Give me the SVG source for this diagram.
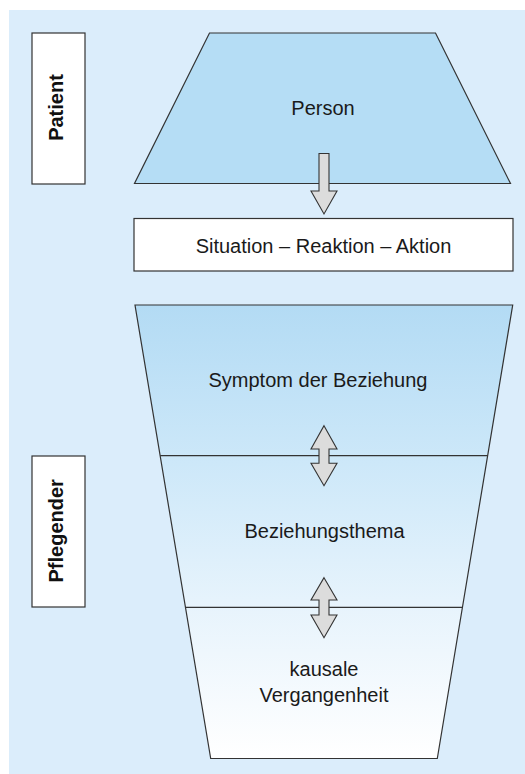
<svg xmlns="http://www.w3.org/2000/svg" width="525" height="774" viewBox="0 0 525 774">
<defs>
<linearGradient id="funnelGrad" x1="0" y1="305" x2="0" y2="758" gradientUnits="userSpaceOnUse">
<stop offset="0" stop-color="#b3dbf4"/>
<stop offset="0.35" stop-color="#cde8f9"/>
<stop offset="0.65" stop-color="#e6f3fc"/>
<stop offset="1" stop-color="#ffffff"/>
</linearGradient>
<style>
.shape{stroke:#333;stroke-width:1.2;}
.label{font-family:"Liberation Sans",Arial,sans-serif;font-size:20px;fill:#1a1a1a;text-anchor:middle;}
.side{font-family:"Liberation Sans",Arial,sans-serif;font-size:20px;font-weight:bold;fill:#111;text-anchor:middle;}
.arrow{fill:#dcdcdc;stroke:#333;stroke-width:1.1;stroke-linejoin:miter;}
</style>
</defs>
<rect x="9" y="10" width="516" height="764" fill="#dbedfb"/>

<g id="patient">
<rect class="shape" x="32" y="33" width="53" height="151" fill="#ffffff"/>
<text class="side" transform="translate(62.7,107.5) rotate(-90)">Patient</text>
</g>

<g id="pflegender">
<rect class="shape" x="32" y="456" width="53" height="151" fill="#ffffff"/>
<text class="side" transform="translate(62.7,530.8) rotate(-90)">Pflegender</text>
</g>

<g id="person">
<polygon class="shape" points="209.5,33 435.5,33 510.5,183.5 134.5,183.5" fill="#b5ddf5"/>
<text class="label" x="323" y="115">Person</text>
</g>

<g id="situation">
<rect class="shape" x="134" y="218.5" width="379" height="52.5" fill="#ffffff"/>
<text class="label" x="323.5" y="253.3">Situation – Reaktion – Aktion</text>
</g>

<g id="funnel">
<polygon class="shape" points="135,305 512.7,305 437.3,758.5 210.7,758.5" fill="url(#funnelGrad)"/>
<line class="shape" x1="160.2" y1="455.7" x2="487.6" y2="455.7"/>
<line class="shape" x1="185.5" y1="607.3" x2="462.7" y2="607.3"/>
</g>

<g id="symptom">
<text class="label" x="318" y="386.7">Symptom der Beziehung</text>
</g>
<g id="beziehungsthema">
<text class="label" x="324.5" y="538.3">Beziehungsthema</text>
</g>
<g id="vergangenheit">
<text class="label" x="324" y="676">kausale</text>
<text class="label" x="324" y="701.7">Vergangenheit</text>
</g>

<g id="connectors">
<polygon class="arrow" points="319,153.5 329,153.5 329,191 337,191 324,214 311,191 319,191"/>
<polygon class="arrow" points="324,425.7 337,449 329,449 329,463.3 337,463.3 324,485.7 311,463.3 319,463.3 319,449 311,449"/>
<polygon class="arrow" points="324,577.7 337,600 329,600 329,615 337,615 324,637.7 311,615 319,615 319,600 311,600"/>
</g>
</svg>
